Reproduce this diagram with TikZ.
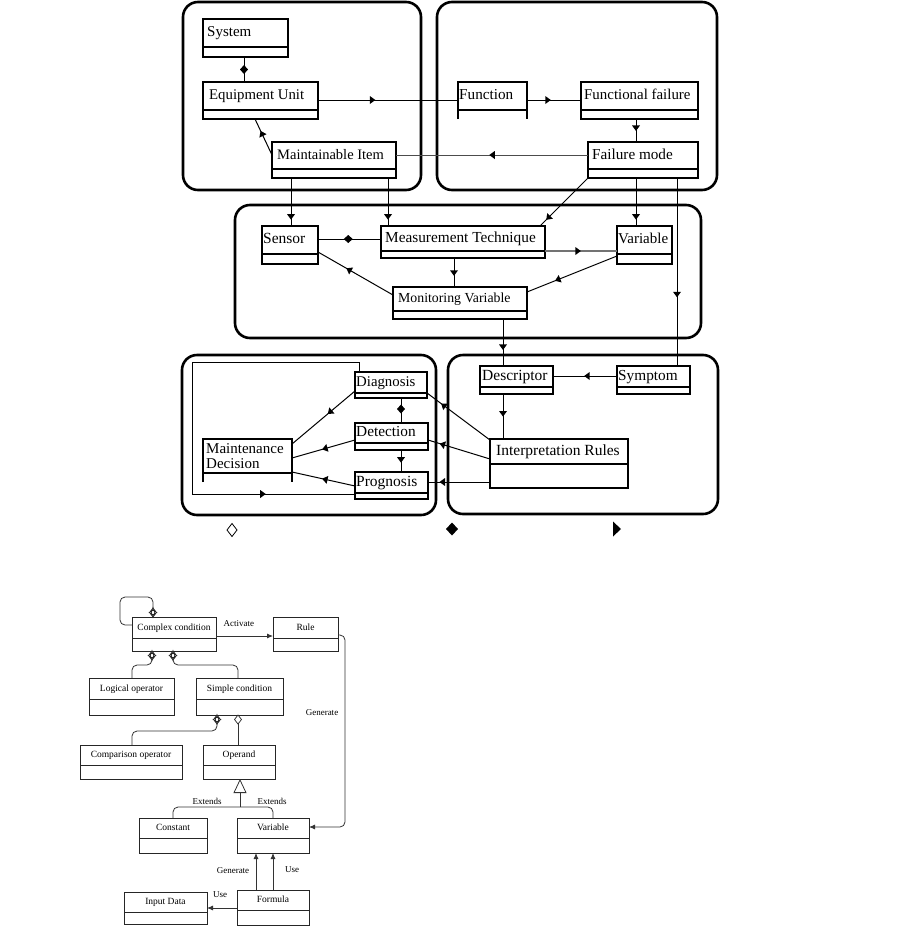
\documentclass[tikz,border=0pt]{standalone}
\usepackage{fontspec}
\setmainfont{Liberation Serif}
\usetikzlibrary{arrows.meta,decorations.markings}
\newcommand\setfs[1]{\fontsize{#1}{#1}\selectfont}
\tikzset{
  grp/.style={draw, line width=2.6pt, rounded corners=15pt},
  cls/.style={draw, line width=1.2pt, inner sep=0pt, outer sep=0pt},
  clsl/.style={line width=1.2pt},
  txt/.style={inner sep=0pt, text height=10pt, text depth=3pt},
  conn/.style={line width=1pt},
  midto/.style={postaction={decorate, decoration={markings, mark=at position #1 with {\fill[black] (2.75pt,0pt) -- (-2.75pt,4pt) -- (-2.75pt,-4pt) -- cycle;}}}},
  middia/.style={postaction={decorate, decoration={markings, mark=at position #1 with {\fill[black] (-4.5pt,0pt) -- (0pt,4pt) -- (4.5pt,0pt) -- (0pt,-4pt) -- cycle;}}}},
  lcls/.style={draw=black!85, line width=0.8pt, inner sep=0pt, outer sep=0pt},
  lclsl/.style={draw=black!85, line width=0.8pt},
  ltxt/.style={inner sep=0pt, font=\setfs{9.5}, text height=7pt, text depth=2pt},
  llab/.style={inner sep=0pt, font=\setfs{9}},
  lconn/.style={draw=black!80, line width=0.8pt},
  lodia/.style={postaction={decorate, decoration={markings, mark=at position 4.5pt with {\filldraw[fill=white, draw=black!85, line width=0.7pt] (-4.5pt,0pt) -- (0pt,3.5pt) -- (4.5pt,0pt) -- (0pt,-3.5pt) -- cycle;}}}},
  lar/.style={-{Latex[length=6pt,width=5pt]}},
}
% name x1 y1 x2 y2 ydiv pad fontsize text
\newcommand\ubox[9]{%
  \node[cls, anchor=north west, minimum width={(#4-#2)*1pt}, minimum height={(#5-#3)*1pt}] (#1) at (#2,#3) {};
  \draw[clsl] (#1.west |- 0,#6) -- (#1.east |- 0,#6);
  \node[txt, anchor=west, font=\setfs{#8}] at ({#2+#7},{(#3+#6)/2}) {#9};
}
% name x1 y1 x2 y2 ydiv text
\newcommand\lbox[7]{%
  \node[lcls, anchor=north west, minimum width={(#4-#2)*1pt}, minimum height={(#5-#3)*1pt}] (#1) at (#2,#3) {};
  \draw[lclsl] (#1.west |- 0,#6) -- (#1.east |- 0,#6);
  \node[ltxt] at ({(#2+#4)/2},{(#3+#6)/2}) {#7};
}
\begin{document}
\begin{tikzpicture}[x=1pt, y=-1pt]
\useasboundingbox (0,0) rectangle (901,927);
% ---------- group frames ----------
\draw[grp] (183,2) rectangle (421,190);
\draw[grp] (437,2) rectangle (717,190);
\draw[grp] (235,205) rectangle (701,338);
\draw[grp] (182,355) rectangle (436,515);
\draw[grp] (448,355) rectangle (718,514);
% ---------- classes (top diagram) ----------
\ubox{sys}{203}{19}{288}{57}{47}{4}{15}{System}
\ubox{eu}{203}{82}{318}{119}{110}{6}{14.8}{Equipment Unit}
\ubox{mi}{272}{142}{396}{178}{169}{5}{14.5}{Maintainable Item}
\begin{scope}[cls/.style={inner sep=0pt, outer sep=0pt}]
\ubox{fn}{458}{82}{527}{119}{110}{1}{15.2}{Function}
\end{scope}
\draw[clsl] (fn.south west) -- (fn.north west) -- (fn.north east) -- (fn.south east);
\ubox{ff}{581}{82}{698}{119}{110}{3}{14.9}{Functional failure}
\ubox{fm}{588}{142}{698}{178}{169}{4}{15.2}{Failure mode}
\ubox{sen}{262}{226}{318}{264}{254}{1}{15.5}{Sensor}
\begin{scope}[cls/.append style={line width=1.8pt}]
\ubox{mt}{381}{226}{545}{258}{251}{4}{15.3}{Measurement Technique}
\end{scope}
\ubox{var}{617}{226}{672}{264}{254}{1}{15}{Variable}
\ubox{mv}{393}{287}{527}{319}{311}{5}{13.8}{Monitoring Variable}
\ubox{desc}{480}{366}{553}{394}{387}{2}{15.5}{Descriptor}
\ubox{sym}{617}{366}{690}{394}{387}{1}{15.3}{Symptom}
\ubox{ir}{490}{439}{628}{488}{464}{6}{15.5}{Interpretation Rules}
\ubox{diag}{355}{372}{427}{398}{393}{1}{14.8}{Diagnosis}
\ubox{det}{355}{423}{428}{450}{443}{1}{15.3}{Detection}
\ubox{prog}{355}{472}{428}{499}{493}{1}{15.5}{Prognosis}
\node[inner sep=0pt, outer sep=0pt, anchor=north west, minimum width=89pt, minimum height=43pt] (md) at (203,439) {};
\draw[clsl] (md.south west) -- (md.north west) -- (md.north east) -- (md.south east);
\draw[clsl] (md.west |- 0,473) -- (md.east |- 0,473);
\node[inner sep=0pt, anchor=north west, align=left, font={\fontsize{15}{14.5}\selectfont}] (mdt) at (206,443.5) {Maintenance\\Decision};
% ---------- connectors (top diagram) ----------
\draw[conn, middia=0.5] (sys.south -| 244,0) -- (eu.north -| 244,0);
\draw[conn, midto=0.39] (eu.east |- 0,100) -- (fn.west |- 0,100);
\draw[conn, midto=0.39] (fn.east |- 0,100) -- (ff.west |- 0,100);
\draw[conn, midto=0.4] (ff.south -| 636,0) -- (fm.north -| 636,0);
\draw[conn, draw=black!70, midto=0.5] (fm.west |- 0,155) -- (mi.east |- 0,155);
\draw[conn, midto=0.6] (mi.west |- 0,155) -- (eu.south -| 255,0);
\draw[conn, midto=0.81] (mi.south -| 291,0) -- (sen.north -| 291,0);
\draw[conn, midto=0.81] (mi.south -| 388,0) -- (mt.north -| 388,0);
\draw[conn, midto=0.83] (fm.south west) -- (mt.north -| 540,0);
\draw[conn, midto=0.81] (fm.south -| 636,0) -- (var.north -| 636,0);
\draw[conn, midto=0.62] (fm.south -| 677,0) -- (sym.north -| 677,0);
\draw[conn, middia=0.48] (sen.east |- 0,239) -- (mt.west |- 0,239);
\draw[conn, draw=black!55, line width=1.3pt, midto=0.46] (mt.east |- 0,251) -- (var.west |- 0,251);
\draw[conn, midto=0.52] (mt.south -| 454,0) -- (mv.north -| 454,0);
\draw[conn, midto=0.59] (mv.west |- 0,295) -- (sen.east |- 0,252);
\draw[conn, midto=0.66] (var.west |- 0,256) -- (mv.east |- 0,292);
\draw[conn, midto=0.6] (mv.south -| 503,0) -- (desc.north -| 503,0);
\draw[conn, midto=0.47] (sym.west |- 0,376) -- (desc.east |- 0,376);
\draw[conn, midto=0.44] (desc.south -| 503,0) -- (ir.north -| 503,0);
\draw[conn, midto=0.74] (ir.west |- 0,440) -- (diag.east |- 0,393);
\draw[conn, midto=0.77] (ir.west |- 0,459) -- (det.east |- 0,440);
\draw[conn, midto=0.77] (ir.west |- 0,482) -- (prog.east |- 0,482);
\draw[conn, middia=0.44] (diag.south -| 401,0) -- (det.north -| 401,0);
\draw[conn, midto=0.45] (det.south -| 401,0) -- (prog.north -| 401,0);
\draw[conn, midto=0.4] (diag.west |- 0,391) -- (md.east |- 0,444);
\draw[conn, midto=0.48] (det.west |- 0,440) -- (md.east |- 0,458);
\draw[conn, midto=0.48] (prog.west |- 0,486) -- (md.east |- 0,472);
\draw[conn, midto=0.805] (diag.north -| 359,0) -- (359,362) -- (192,362) -- (192,494) -- (prog.west |- 0,494);
% ---------- legend ----------
\draw[line width=0.8pt, fill=white] (227,530) -- (232,523.5) -- (237,530) -- (232,536.5) -- cycle;
\fill (446,529) -- (452,522.5) -- (458,529) -- (452,535.5) -- cycle;
\fill (613,521.5) -- (621,529) -- (613,536.5) -- cycle;
% ---------- lower diagram ----------
\lbox{cc}{132}{617}{216}{651}{638}{Complex condition}
\lbox{rule}{273}{617}{338}{651}{638}{Rule}
\lbox{lo}{89}{678}{174}{715}{699}{Logical operator}
\lbox{sc}{196}{678}{283}{715}{699}{Simple condition}
\lbox{co}{80}{745}{182}{779}{765}{Comparison operator}
\lbox{op}{203}{745}{275}{779}{765}{Operand}
\lbox{con}{139}{818}{207}{853}{838}{Constant}
\lbox{lvar}{237}{818}{309}{853}{838}{Variable}
\lbox{inp}{124}{892}{207}{924}{912}{Input Data}
\lbox{form}{237}{890}{309}{925}{910}{Formula}
\draw[lconn, rounded corners=5pt, lodia] (cc.north -| 153,0) -- (153,597) -- (120,597) -- (120,625) -- (cc.west |- 0,625);
\draw[lconn, lar] (cc.east |- 0,636) -- node[llab, above=9pt, pos=0.4] {Activate} (rule.west |- 0,636);
\draw[lconn, rounded corners=5pt, lodia] (cc.south -| 152,0) -- (152,665) -- (132,665) -- (lo.north -| 132,0);
\draw[lconn, rounded corners=5pt, lodia] (cc.south -| 173,0) -- (173,665) -- (238,665) -- (sc.north -| 238,0);
\draw[lconn, rounded corners=5pt, lar] (rule.east |- 0,635) -- (345,635) -- (345,827) -- (lvar.east |- 0,827);
\node[llab] (genl) at (322,713) {Generate};
\draw[lconn, rounded corners=5pt, lodia] (sc.south -| 217,0) -- (217,731) -- (132,731) -- (co.north -| 132,0);
\draw[lconn, lodia] (sc.south -| 238,0) -- (op.north -| 238,0);
\coordinate (ext) at (240,807);
\draw[lconn, rounded corners=5pt] (con.north -| 173,0) -- (173,807) -- (ext) -- (273,807) -- (lvar.north -| 273,0);
\draw[lconn, -{Triangle[open, length=14pt, width=13pt, line width=0.8pt]}] (ext) -- (op.south -| 240,0);
\node[llab] at (207,801) {Extends};
\node[llab] at (272,801) {Extends};
\draw[lconn, lar] (form.north -| 256,0) -- (lvar.south -| 256,0);
\draw[lconn, lar] (form.north -| 273,0) -- (lvar.south -| 273,0);
\node[llab] at (233,871) {Generate};
\node[llab] at (292,870) {Use};
\draw[lconn, lar] (form.west |- 0,908) -- (inp.east |- 0,908);
\node[llab] at (220,895) {Use};
\end{tikzpicture}
\end{document}
